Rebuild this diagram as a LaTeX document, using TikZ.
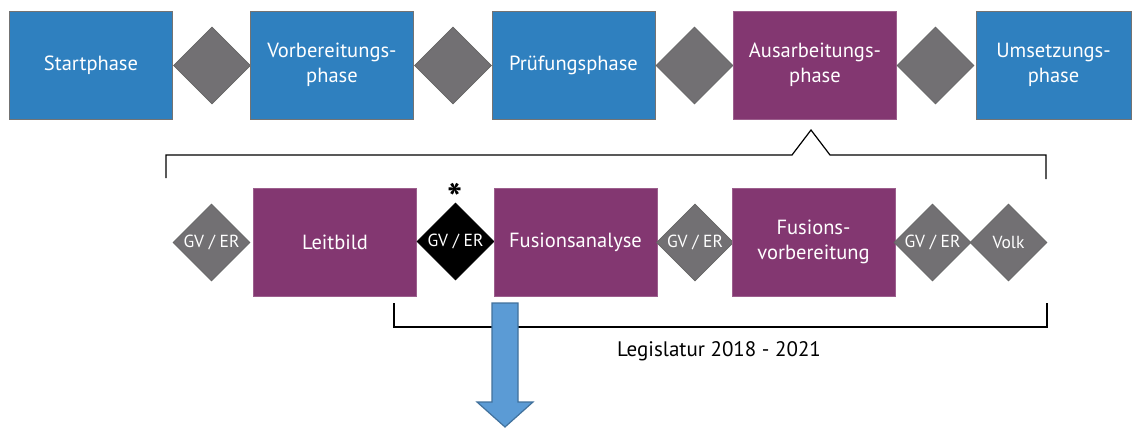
\documentclass[tikz,border=0pt]{standalone}
\usepackage{fontspec}
\setmainfont{PT Sans}
\usetikzlibrary{shapes.geometric}
\definecolor{phaseblue}{HTML}{2F80BF}
\definecolor{phasepurple}{HTML}{833771}
\definecolor{diagray}{HTML}{727073}
\definecolor{arrowblue}{HTML}{5B9BD5}
\definecolor{arrowedge}{HTML}{41719C}
\tikzset{
  phasebox/.style={rectangle, draw=black!55, line width=0.6pt, fill=phaseblue, text=white, minimum width=163pt, minimum height=108pt, inner sep=0pt, align=center, font=\fontsize{20.5}{25}\selectfont},
  subbox/.style={phasebox, fill=phasepurple, draw=phasepurple!80!white},
  gate/.style={diamond, draw=black!60, line width=0.6pt, fill=diagray, minimum width=77pt, minimum height=77pt, inner sep=0pt, text=white, font=\fontsize{17.5}{20}\selectfont},
  bracket/.style={draw=black, line width=1.2pt},
}
\begin{document}
\begin{tikzpicture}[x=1pt,y=-1pt]
\useasboundingbox (0,0) rectangle (1133,428);
% top row
\node[phasebox] (p1) at (91,65) {Startphase};
\node[gate] (d1) at (212,65.5) {};
\node[phasebox] (p2) at (332,65) {Vorbereitungs-\\phase};
\node[gate] (d2) at (453,65.5) {};
\node[phasebox] (p3) at (573.5,65) {Prüfungsphase};
\node[gate] (d3) at (694.5,65.5) {};
\node[subbox] (p4) at (815,65) {Ausarbeitungs-\\phase};
\node[gate] (d4) at (935.5,65.5) {};
\node[phasebox, minimum width=155pt] (p5) at (1053.5,65) {Umsetzungs-\\phase};
% upper bracket
\coordinate (b1) at (166,178);
\coordinate (b2) at (166,155);
\coordinate (b3) at (792,155);
\coordinate (b4) at (811,130);
\coordinate (b5) at (830,155);
\coordinate (b6) at (1046,155);
\coordinate (b7) at (1046,179);
\draw[bracket, line join=miter] (b1) -- (b2) -- (b3) -- (b4) -- (b5) -- (b6) -- (b7);
% lower row
\node[gate] (g1) at (211.5,242.5) {GV / ER};
\node[subbox] (s1) at (335,242) {Leitbild};
\node[gate, fill=black, draw=black] (g2) at (455.5,241.5) {GV / ER};
\node[font=\fontsize{40}{40}\selectfont\bfseries, inner sep=0pt] (star) at (455,198) {*};
\node[subbox] (s2) at (575.5,242) {Fusionsanalyse};
\node[gate] (g3) at (695,242.5) {GV / ER};
\node[subbox] (s3) at (813.5,242) {Fusions-\\vorbereitung};
\node[gate] (g4) at (932.5,242.5) {GV / ER};
\node[gate] (g5) at (1008.5,242.5) {Volk};
% lower bracket
\coordinate (c1) at (394,303);
\coordinate (c2) at (394,327);
\coordinate (c3) at (1047,327);
\coordinate (c4) at (1047,303);
\draw[bracket] (c1) -- (c2) -- (c3) -- (c4);
\node[font=\fontsize{21}{24}\selectfont] (leg) at (719,351) {Legislatur 2018 - 2021};
% big arrow
\coordinate (a0) at (505,303);
\draw[fill=arrowblue, draw=arrowedge, line width=1.2pt, line join=miter]
  (492,303) -- (518,303) -- (518,402) -- (533,402) -- (505,427) -- (477,402) -- (492,402) -- cycle;
\end{tikzpicture}
\end{document}
